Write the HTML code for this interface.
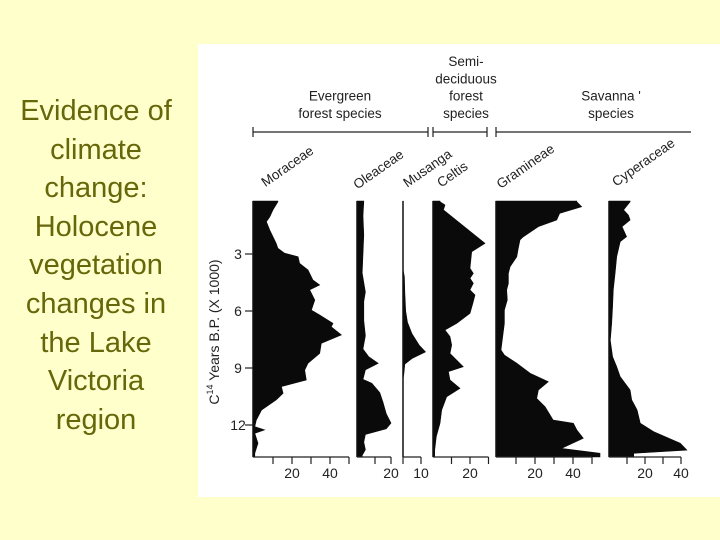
<!DOCTYPE html>
<html><head><meta charset="utf-8">
<style>
html,body{margin:0;padding:0;background:#ffffcc;width:720px;height:540px;overflow:hidden}
#title{position:absolute;left:0;top:92px;width:192px;text-align:center;font-family:"Liberation Sans",sans-serif;font-size:29px;line-height:38.6px;color:#66660a}
#panel{position:absolute;left:198px;top:44px;width:522px;height:453px;background:#fff}
svg{position:absolute;left:0;top:0}
</style></head>
<body>
<div id="title">Evidence of<br>climate<br>change:<br>Holocene<br>vegetation<br>changes in<br>the Lake<br>Victoria<br>region</div>
<div id="panel"></div>
<svg id="chart" width="720" height="540" font-family="Liberation Sans, sans-serif"></svg>
<script>
// Ages in thousands of C14 years BP, values in percent
const moraceaeAge=[0.25,0.68,1.04,1.30,1.74,2.09,2.44,2.70,2.96,3.14,3.49,3.84,4.37,4.63,4.89,5.42,5.95,6.21,6.65,6.83,7.26,7.70,8.23,8.75,9.11,9.63,9.98,10.33,10.68,11.21,11.74,12.09,12.26,12.44,12.96,13.49];
const moraceaeVal=[12.6,10,8.3,6.5,8.3,10,11.7,12.6,16.1,23.2,24,28.4,31,34.6,29.3,32,30.2,34.6,41.6,40.7,46,35.4,34.6,28.4,26.7,27.5,14.4,15.3,11.7,4,1.2,0.4,5.6,0.4,2.1,0.4];
const oleaceaeAge=[0.25,1.0,2.0,3.0,4.0,5.0,5.5,6.5,7.3,8.0,8.4,8.75,9.1,9.6,9.8,10.3,10.8,11.4,11.9,12.2,12.5,12.9,13.3,13.6];
const oleaceaeVal=[3,2.5,3,2.5,2,4,3,3,4,2.5,6,12,4,2.5,8,13,15,17,20,17,4,3,4,2];
const musangaAge=[0.2,3.8,4.2,5,6,6.6,7.2,7.8,8.15,8.5,8.8,9.3,9.6,13.6];
const musangaVal=[0,0,0.8,1,1.5,2.5,5,9,12.5,5,1,0.5,0,0];
const celtisAge=[0.25,0.42,0.68,2.44,2.88,3.75,4.02,4.28,4.54,4.89,5.16,5.51,6.12,6.65,7.0,7.35,7.79,8.23,8.93,9.19,9.63,10.07,10.51,11.21,11.91,12.61,13.32];
const celtisVal=[3.8,6.5,5.6,28.1,20.9,20,21.8,20,21.8,20,22.7,21.8,20,12.8,6.5,9.2,10.1,9.2,16.4,8.3,9.2,14.6,7.4,4.7,3.8,1.8,0.9];
const gramineaeAge=[0.25,0.51,0.86,1.21,1.56,2.09,2.26,2.70,3.14,3.67,4.02,4.54,4.89,5.42,5.95,6.65,7.35,8.06,8.32,8.75,9.28,9.72,10.16,10.6,11.04,11.74,11.91,12.26,12.7,13.23,13.49];
const gramineaeVal=[42,44.6,33,31.4,21.8,13.9,12.1,11.2,10.4,6.9,6,6,5.1,5.4,3.9,3.9,3.0,2.1,3.9,10.4,17.4,27.0,21.8,20.9,25.3,29.6,40.2,42,45.4,34,54.2];
const cyperaceaeAge=[0.25,0.68,0.95,1.21,1.56,2.09,2.35,3.14,4.02,4.89,5.77,6.65,7.54,8.41,8.93,9.46,10.16,10.68,11.21,11.91,12.35,12.96,13.32,13.49,13.6];
const cyperaceaeVal=[11.7,8.1,10.8,11.7,7.2,9.8,6.2,4.3,3.4,2.4,2.0,1.5,0.7,2.0,4.3,6.2,11.7,12.6,15.6,17.4,24.8,39.6,43.3,13.7,13.7];
const yTicks=[3,6,9,12];
const groupLabels=[["Evergreen","forest  species"],["Semi-","deciduous","forest","species"],["Savanna '","species"]];

const svg=document.getElementById('chart');
const NS='http://www.w3.org/2000/svg';
function mk(tag,attrs,parent){const e=document.createElementNS(NS,tag);for(const k in attrs)e.setAttribute(k,attrs[k]);(parent||svg).appendChild(e);return e;}
const TOP=201,BOT=457;
function yAge(a){return 197+19*a;}

const panels=[
 {name:'moraceae',label:'Moraceae',age:moraceaeAge,val:moraceaeVal,x0:254,k:1.9,base:253,ticks:[10,20,30,40,50],labs:[20,40],lx:290,ly:170},
 {name:'oleaceae',label:'Oleaceae',age:oleaceaeAge,val:oleaceaeVal,x0:359,k:1.6,base:357,ticks:[10,20],labs:[20],lx:381,ly:173},
 {name:'musanga',label:'Musanga',age:musangaAge,val:musangaVal,x0:403,k:1.8,base:403,ticks:[0,10],labs:[10],lx:430,ly:172},
 {name:'celtis',label:'Celtis',age:celtisAge,val:celtisVal,x0:433,k:1.85,base:433,ticks:[10,20,30],labs:[20],lx:455,ly:178},
 {name:'gramineae',label:'Gramineae',age:gramineaeAge,val:gramineaeVal,x0:497,k:1.9,base:496,ticks:[10,20,30,40,50],labs:[20,40],lx:528,ly:170},
 {name:'cyperaceae',label:'Cyperaceae',age:cyperaceaeAge,val:cyperaceaeVal,x0:609,k:1.8,base:609,ticks:[10,20,30,40],labs:[20,40],lx:646,ly:166}
];

panels.forEach(p=>{
  const xs=v=>p.x0+p.k*v;
  let d='M'+p.base+','+TOP+' L'+xs(p.val[0]).toFixed(1)+','+TOP;
  for(let i=0;i<p.age.length;i++) d+=' L'+xs(p.val[i]).toFixed(1)+','+yAge(p.age[i]).toFixed(1);
  d+=' L'+xs(p.val[p.val.length-1]).toFixed(1)+','+BOT+' L'+p.base+','+BOT+' Z';
  const path=mk('path',{d:d,fill:'#0a0a0a',stroke:'#0a0a0a','stroke-width':'0.6'});
  
  
  const bl=mk('line',{x1:p.base,y1:TOP,x2:p.base,y2:BOT,stroke:'#111','stroke-width':'1.5'});
  
  
  const lastT=p.ticks[p.ticks.length-1];
  const ax=mk('line',{x1:p.base,y1:BOT,x2:xs(lastT),y2:BOT,stroke:'#222','stroke-width':'1.2'});
  
  
  p.ticks.forEach(t=>{
    const tk=mk('line',{x1:xs(t),y1:BOT,x2:xs(t),y2:BOT+7,stroke:'#222','stroke-width':'1.2'});
    
    
  });
  p.labs.forEach(t=>{
    const tx=mk('text',{x:xs(t),y:478,'font-size':'14','text-anchor':'middle',fill:'#222'});
    tx.textContent=t;
    
    
  });
  const lb=mk('text',{x:p.lx,y:p.ly,'font-size':'13.5','text-anchor':'middle',fill:'#222',transform:'rotate(-35 '+p.lx+' '+p.ly+')'});
  lb.textContent=p.label;
  
  
});

// y axis
yTicks.forEach(a=>{
  const tk=mk('line',{x1:245,y1:yAge(a),x2:253,y2:yAge(a),stroke:'#222','stroke-width':'1.2'});
  
  
  const tx=mk('text',{x:238,y:yAge(a)+5,'font-size':'14','text-anchor':'middle',fill:'#222'});
  tx.textContent=a;
  
  
});
const yt=mk('text',{x:219,y:332,'font-size':'14','text-anchor':'middle',fill:'#222',transform:'rotate(-90 219 332)'});
yt.innerHTML='C<tspan font-size="9" dy="-6">14</tspan><tspan dy="6"> Years B.P. (X 1000)</tspan>';



// group brackets
const brackets=[[253,428],[433,487],[496,691]];
brackets.forEach((b,i)=>{
  const g=mk('g',{stroke:'#222','stroke-width':'1.2'});
  
  
  mk('line',{x1:b[0],y1:132,x2:b[1],y2:132},g);
  mk('line',{x1:b[0],y1:127,x2:b[0],y2:137},g);
  if(i<2) mk('line',{x1:b[1],y1:127,x2:b[1],y2:137},g);
});
const gx=[340,466,611];
groupLabels.forEach((lines,i)=>{
  const n=lines.length;
  lines.forEach((s,j)=>{
    const tx=mk('text',{x:gx[i],y:118-(n-1-j)*17.3,'font-size':'13.5','text-anchor':'middle',fill:'#222'});
    tx.textContent=s;
    
    
  });
});
</script>
</body></html>
